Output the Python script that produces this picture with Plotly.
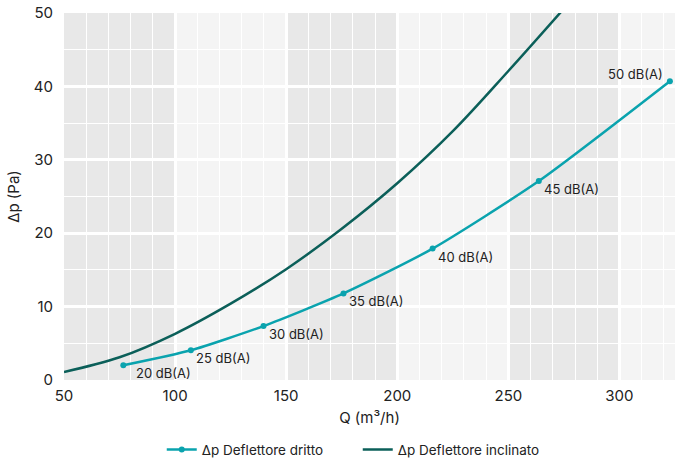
import plotly.graph_objects as go

# Δp Deflettore dritto (measured points with noise level)
q_dritto = [76.7, 107.1, 139.8, 175.8, 215.9, 263.7, 322.7]
dp_dritto = [2.0, 4.05, 7.35, 11.8, 17.9, 27.1, 40.7]
noise_labels = ["20 dB(A)", "25 dB(A)", "30 dB(A)", "35 dB(A)", "40 dB(A)", "45 dB(A)", "50 dB(A)"]

# Δp Deflettore inclinato (curve)
q_incl = [50, 75, 100, 125, 150, 175, 200, 225, 250, 275]
dp_incl = [1.1, 3.1, 6.3, 10.4, 15.1, 20.6, 26.8, 33.9, 42.1, 50.6]

# axis settings
x_range = [50, 325]
y_range = [0, 50]
band_edges = [(50, 100), (150, 200), (250, 300)]

C_DRITTO = "#0aa3ae"
C_INCL = "#0b5f59"
FONT = "Inter, Roboto, Arial, sans-serif"
TXT = "#222222"

fig = go.Figure()

fig.add_trace(go.Scatter(
    x=q_dritto, y=dp_dritto, mode="lines+markers",
    line=dict(color=C_DRITTO, width=2.5, shape="spline", smoothing=0.6),
    marker=dict(size=6, color=C_DRITTO),
    name="Δp Deflettore dritto",
))
fig.add_trace(go.Scatter(
    x=q_incl, y=dp_incl, mode="lines",
    line=dict(color=C_INCL, width=2.5, shape="spline", smoothing=1.0),
    name="Δp Deflettore inclinato",
))

shapes = []
for x0, x1 in band_edges:
    shapes.append(dict(type="rect", xref="x", yref="y", x0=x0, x1=x1,
                       y0=y_range[0], y1=y_range[1], fillcolor="#e8e8e8",
                       line=dict(width=0), layer="below"))

annotations = []
for i, (q, dp, lab) in enumerate(zip(q_dritto, dp_dritto, noise_labels)):
    if i == len(q_dritto) - 1:
        annotations.append(dict(x=q, y=dp, text=lab, showarrow=False,
                                xanchor="right", yanchor="middle",
                                xshift=-5, yshift=7,
                                font=dict(family=FONT, size=13, color=TXT)))
    else:
        annotations.append(dict(x=q, y=dp, text=lab, showarrow=False,
                                xanchor="left", yanchor="middle",
                                xshift=11 if i == 0 else 3, yshift=-8,
                                font=dict(family=FONT, size=13, color=TXT)))

fig.update_layout(
    width=675, height=459,
    margin=dict(l=64, r=0, t=13, b=79),
    paper_bgcolor="white",
    plot_bgcolor="#f4f4f4",
    font=dict(family=FONT, color=TXT, size=15),
    shapes=shapes,
    annotations=annotations,
    showlegend=True,
    legend=dict(orientation="h", xref="container", yref="container",
                x=0.530, xanchor="center", y=0.02, yanchor="middle",
                font=dict(family=FONT, size=13.5, color=TXT), bgcolor="rgba(0,0,0,0)",
                itemwidth=30, entrywidth=151, entrywidthmode="pixels"),
    xaxis=dict(range=x_range, dtick=50, tick0=50, showgrid=True, gridcolor="white",
               gridwidth=2.5, zeroline=False, showline=False, automargin=False,
               ticks="outside", ticklen=2, tickcolor="rgba(0,0,0,0)",
               tickfont=dict(family=FONT, size=15, color=TXT),
               minor=dict(dtick=10, tick0=50, showgrid=True, gridcolor="white", gridwidth=1),
               title=dict(text="Q (m³/h)", font=dict(family=FONT, size=15, color=TXT), standoff=8)),
    yaxis=dict(range=y_range, dtick=10, showgrid=True, gridcolor="white",
               gridwidth=2.5, zeroline=False, showline=False, automargin=False,
               ticks="outside", ticklen=7, tickcolor="rgba(0,0,0,0)",
               tickfont=dict(family=FONT, size=15, color=TXT),
               minor=dict(dtick=5, showgrid=True, gridcolor="white", gridwidth=1),
               title=dict(text="Δp (Pa)", font=dict(family=FONT, size=15, color=TXT), standoff=10)),
)

fig.write_html("out.html", config={"displayModeBar": False})

# remove the default page margin so the figure sits at the window origin
with open("out.html", "r", encoding="utf-8") as f:
    html = f.read()
html = html.replace("<head>", "<head><style>html,body{margin:0;padding:0;overflow:hidden;}</style>", 1)
with open("out.html", "w", encoding="utf-8") as f:
    f.write(html)
